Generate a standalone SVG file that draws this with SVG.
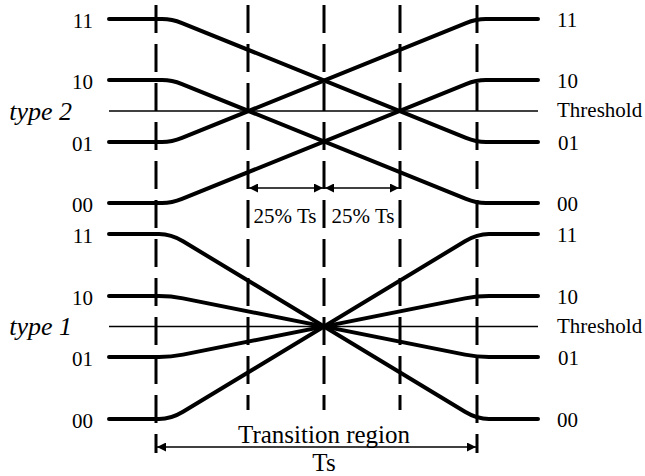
<svg xmlns="http://www.w3.org/2000/svg" width="645" height="476" viewBox="0 0 645 476">
<style>
.sig{fill:none;stroke:#000;stroke-width:4;stroke-linecap:round;stroke-linejoin:round}
.dash{fill:none;stroke:#000;stroke-width:3;stroke-dasharray:28 11}
.thr{fill:none;stroke:#000;stroke-width:1.3}
.dim{fill:none;stroke:#000;stroke-width:1.4}
.bar{fill:none;stroke:#000;stroke-width:3}
text{font-family:"Liberation Serif","Times New Roman",serif;fill:#000}
.lv{font-size:21px}
.lvl{font-size:21px;text-anchor:end}
.ty{font-size:26px;font-style:italic;text-anchor:end}
.big{font-size:25px;text-anchor:middle}
.pct{font-size:21px;text-anchor:middle}
</style>
<defs>
<marker id="ah" viewBox="0 0 10 10" refX="10" refY="5" markerWidth="10" markerHeight="9" markerUnits="userSpaceOnUse" orient="auto-start-reverse">
<path d="M0,0 L10,5 L0,10 Z" fill="#000"/>
</marker>
</defs>
<g id="grid">
<line class="dash" x1="156" y1="5" x2="156" y2="453"/>
<line class="dash" x1="248" y1="5" x2="248" y2="410"/>
<line class="dash" x1="324" y1="5" x2="324" y2="410"/>
<line class="dash" x1="400" y1="5" x2="400" y2="410"/>
<line class="dash" x1="477" y1="5" x2="477" y2="453"/>
<line class="thr" x1="109" y1="111" x2="538" y2="111"/>
<line class="thr" x1="109" y1="326.5" x2="538" y2="326.5"/>
</g>
<g id="type2-signals">
<path class="sig" d="M109,19 H162 Q172,19 182,23.05 L466,137.95 Q476,142 486,142 H538"/>
<path class="sig" d="M109,80 H162 Q172,80 182,84.05 L466,198.95 Q476,203 486,203 H538"/>
<path class="sig" d="M109,142 H162 Q172,142 182,137.95 L466,23.05 Q476,19 486,19 H538"/>
<path class="sig" d="M109,203 H162 Q172,203 182,198.95 L466,84.05 Q476,80 486,80 H538"/>
</g>
<g id="type1-signals">
<path class="sig" d="M109,234 H159 Q171,234 183,241.26 L465,411.74 Q477,419 489,419 H538"/>
<path class="sig" d="M109,296 H159 Q171,296 183,298.39 L465,354.61 Q477,357 489,357 H538"/>
<path class="sig" d="M109,357 H159 Q171,357 183,354.61 L465,298.39 Q477,296 489,296 H538"/>
<path class="sig" d="M109,419 H159 Q171,419 183,411.74 L465,241.26 Q477,234 489,234 H538"/>
</g>
<g id="connectors">
<line class="dim" x1="249" y1="188" x2="323" y2="188" marker-start="url(#ah)" marker-end="url(#ah)"/>
<line class="dim" x1="325" y1="188" x2="399" y2="188" marker-start="url(#ah)" marker-end="url(#ah)"/>
<line class="dim" x1="157" y1="447" x2="476" y2="447" marker-start="url(#ah)" marker-end="url(#ah)"/>
</g>
<g id="left-labels">
<text class="lvl" x="93" y="27.5">11</text>
<text class="lvl" x="93" y="88.5">10</text>
<text class="lvl" x="93" y="150.5">01</text>
<text class="lvl" x="93" y="211.5">00</text>
<text class="ty" x="72" y="120">type 2</text>
<text class="lvl" x="93" y="242.5">11</text>
<text class="lvl" x="93" y="304.5">10</text>
<text class="lvl" x="93" y="365.5">01</text>
<text class="lvl" x="93" y="427.5">00</text>
<text class="ty" x="72" y="335">type 1</text>
</g>
<g id="right-labels">
<text class="lv" x="557" y="27">11</text>
<text class="lv" x="557" y="88">10</text>
<text class="lv" x="557" y="117">Threshold</text>
<text class="lv" x="558" y="150">01</text>
<text class="lv" x="557" y="211">00</text>
<text class="lv" x="557" y="242">11</text>
<text class="lv" x="557" y="304">10</text>
<text class="lv" x="557" y="333">Threshold</text>
<text class="lv" x="558" y="365">01</text>
<text class="lv" x="557" y="427">00</text>
</g>
<g id="dimension-labels">
<text class="pct" x="285" y="223">25% Ts</text>
<text class="pct" x="363" y="223">25% Ts</text>
<text class="big" x="324" y="443">Transition region</text>
<text class="big" x="324" y="471">Ts</text>
</g>
</svg>
